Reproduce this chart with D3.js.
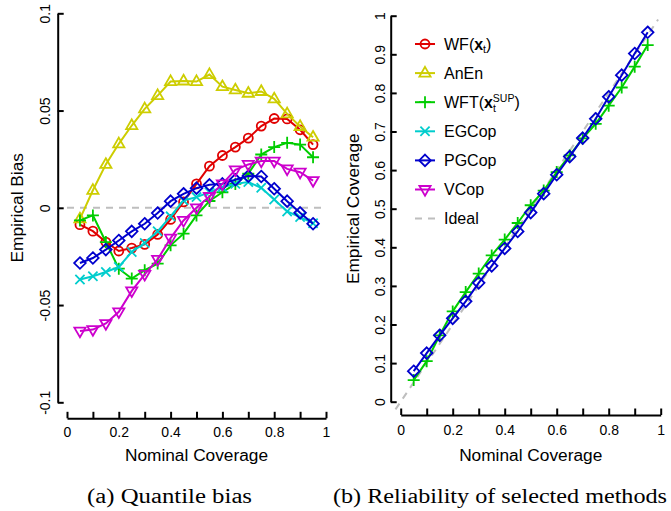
<!DOCTYPE html>
<html><head><meta charset="utf-8">
<script src="https://cdn.jsdelivr.net/npm/d3@7"></script>
<style>body{margin:0;background:#fff} svg{display:block}</style>
</head><body><svg id="c" width="671" height="511"></svg>
<script>
const coverage = [0.05,0.10,0.15,0.20,0.25,0.30,0.35,0.40,0.45,0.50,0.55,0.60,0.65,0.70,0.75,0.80,0.85,0.90,0.95];
const methods = ["WF","AnEn","WFT","EGCop","PGCop","VCop"];
const biasWF    = [-0.0087,-0.0120,-0.0176,-0.0222,-0.0207,-0.0188,-0.0137,-0.0060,0.0030,0.0123,0.0214,0.0269,0.0312,0.0358,0.0420,0.0459,0.0457,0.0401,0.0325];
const biasAnEn  = [-0.0057,0.0090,0.0223,0.0329,0.0423,0.0509,0.0577,0.0649,0.0652,0.0649,0.0685,0.0623,0.0606,0.0589,0.0598,0.0560,0.0483,0.0418,0.0363];
const biasWFT   = [-0.0065,-0.0039,-0.0176,-0.0313,-0.0364,-0.0321,-0.0287,-0.0193,-0.0133,-0.0039,0.0035,0.0080,0.0123,0.0175,0.0274,0.0312,0.0334,0.0325,0.0260];
const biasEGCop = [-0.0369,-0.0352,-0.0330,-0.0304,-0.0227,-0.0181,-0.0121,-0.0044,0.0038,0.0055,0.0080,0.0106,0.0123,0.0132,0.0103,0.0043,-0.0019,-0.0048,-0.0079];
const biasPGCop = [-0.0284,-0.0258,-0.0215,-0.0168,-0.0121,-0.0082,-0.0027,0.0034,0.0072,0.0101,0.0118,0.0123,0.0144,0.0163,0.0161,0.0098,0.0034,-0.0026,-0.0082];
const biasVCop  = [-0.0634,-0.0626,-0.0595,-0.0535,-0.0427,-0.0342,-0.0265,-0.0156,-0.0065,0.0000,0.0058,0.0123,0.0195,0.0223,0.0240,0.0240,0.0200,0.0183,0.0140];
const relWFT    = [0.056,0.105,0.172,0.234,0.284,0.332,0.379,0.420,0.463,0.509,0.547,0.595,0.638,0.682,0.720,0.767,0.814,0.868,0.924];
const relPGCop  = [0.079,0.126,0.172,0.216,0.260,0.308,0.352,0.397,0.441,0.490,0.539,0.588,0.635,0.683,0.733,0.790,0.846,0.902,0.957];
const xTicks = [0,0.1,0.2,0.3,0.4,0.5,0.6,0.7,0.8,0.9,1];
const xTickLabels = ["0","","0.2","","0.4","","0.6","","0.8","","1"];
const biasTicks = [-0.1,-0.05,0,0.05,0.1];
const biasTickLabels = ["-0.1","-0.05","0","0.05","0.1"];
const covTicks = [0,0.1,0.2,0.3,0.4,0.5,0.6,0.7,0.8,0.9,1];
const covTickLabels = ["0","0.1","0.2","0.3","0.4","0.5","0.6","0.7","0.8","0.9","1"];

const colors = {WF:"#E00000",AnEn:"#CDCD00",WFT:"#00CD00",EGCop:"#00CDCD",PGCop:"#0000CD",VCop:"#CD00CD",Ideal:"#BEBEBE"};
const shapes = {WF:"circle",AnEn:"tri",WFT:"plus",EGCop:"cross",PGCop:"diamond",VCop:"dtri"};
const FONT = "'Liberation Sans', Arial, Helvetica, sans-serif";
const SERIF = "'Liberation Serif', 'Times New Roman', serif";

function shapePath(s){
  switch(s){
    case "circle": return "M4.5,0A4.5,4.5 0 1,1 -4.5,0A4.5,4.5 0 1,1 4.5,0Z";
    case "tri": return "M0,-6.2L5.6,3.5L-5.6,3.5Z";
    case "dtri": return "M0,6.2L5.6,-3.5L-5.6,-3.5Z";
    case "plus": return "M-6,0H6M0,-6V6";
    case "cross": return "M-4.6,-4.6L4.6,4.6M-4.6,4.6L4.6,-4.6";
    case "diamond": return "M0,-5.8L5.8,0L0,5.8L-5.8,0Z";
  }
}

const svg = d3.select("#c");

function drawPanel(opt){
  const x = d3.scaleLinear().domain([0,1]).range(opt.xr);
  const y = d3.scaleLinear().domain(opt.yd).range(opt.yr);
  const g = svg.append("g");
  const xa = d3.axisBottom(x).tickValues(xTicks).tickSizeInner(-6.5).tickSizeOuter(0).tickPadding(opt.xpad)
    .tickFormat((d,i)=>xTickLabels[i]);
  const gx = g.append("g").attr("transform",`translate(0,${opt.xAxisY})`).call(xa);
  const ya = d3.axisLeft(y).tickValues(opt.yTicks).tickSizeInner(-6).tickSizeOuter(0)
    .tickFormat((d,i)=>opt.yLabels[i]);
  const gy = g.append("g").attr("transform",`translate(${opt.yAxisX},0)`).call(ya);
  [gx,gy].forEach(a=>{
    a.attr("font-family",null).attr("font-size",null);
    a.select(".domain").attr("stroke","#000").attr("stroke-width",2);
    a.selectAll(".tick line").attr("stroke","#000").attr("stroke-width",2);
    a.selectAll("text").style("font-family",FONT).style("font-size","14px").attr("fill","#000");
  });
  gy.selectAll(".tick text").attr("transform","rotate(-90)").attr("x",0).attr("y",-opt.ypad).attr("dy",0)
    .attr("text-anchor","middle");
  g.append("text").attr("x",(opt.xr[0]+opt.xr[1])/2).attr("y",461).attr("text-anchor","middle")
    .style("font-family",FONT).style("font-size","17.3px").text("Nominal Coverage");
  g.append("text").attr("transform",`translate(${opt.ytitleX},${(opt.yr[0]+opt.yr[1])/2}) rotate(-90)`)
    .attr("text-anchor","middle").style("font-family",FONT).style("font-size","17.3px").text(opt.ytitle);
  return {g,x,y};
}

// Panel (a)
const A = drawPanel({xr:[67,326], yd:[-0.1,0.1], yr:[402.3,13.3], xAxisY:418.3, yAxisX:57.7,
  yTicks:biasTicks, yLabels:biasTickLabels, xpad:8.5, ypad:7.5, ytitleX:23, ytitle:"Empirical Bias"});
A.g.append("line").attr("x1",A.x(0)).attr("x2",A.x(1)).attr("y1",A.y(0)).attr("y2",A.y(0))
  .attr("stroke",colors.Ideal).attr("stroke-width",2).attr("stroke-dasharray","7,6");
const biasSeries = {WF:biasWF,AnEn:biasAnEn,WFT:biasWFT,EGCop:biasEGCop,PGCop:biasPGCop,VCop:biasVCop};

function drawSeries(P,name,vals){
  const line = d3.line().x((d,i)=>P.x(coverage[i])).y(d=>P.y(d));
  P.g.append("path").datum(vals).attr("d",line).attr("fill","none").attr("stroke",colors[name]).attr("stroke-width",2);
  P.g.selectAll(null).data(vals).enter().append("path")
    .attr("transform",(d,i)=>`translate(${P.x(coverage[i])},${P.y(d)})`)
    .attr("d",shapePath(shapes[name])).attr("fill","none").attr("stroke",colors[name]).attr("stroke-width",1.8);
}
methods.forEach(m=>drawSeries(A,m,biasSeries[m]));

// Panel (b)
const B = drawPanel({xr:[400.7,660.7], yd:[0,1], yr:[401.7,15.7], xAxisY:415, yAxisX:390.7,
  yTicks:covTicks, yLabels:covTickLabels, xpad:10, ypad:6, ytitleX:359, ytitle:"Empirical Coverage"});
B.g.append("line").attr("x1",B.x(-0.02)).attr("x2",B.x(0.99)).attr("y1",B.y(-0.02)).attr("y2",B.y(0.99))
  .attr("stroke",colors.Ideal).attr("stroke-width",2).attr("stroke-dasharray","7,6");
drawSeries(B,"WFT",relWFT);
drawSeries(B,"PGCop",relPGCop);

// Legend
const legendY0 = 44, legendDy = 29.1, lx = 425;
const legNames = methods.concat(["Ideal"]);
legNames.forEach((m,i)=>{
  const cy = legendY0 + i*legendDy;
  const lg = svg.append("g");
  if(m==="Ideal"){
    lg.append("line").attr("x1",lx-10).attr("x2",lx+10).attr("y1",cy).attr("y2",cy)
      .attr("stroke",colors.Ideal).attr("stroke-width",2).attr("stroke-dasharray","7,6");
  } else {
    lg.append("line").attr("x1",lx-10).attr("x2",lx+10).attr("y1",cy).attr("y2",cy)
      .attr("stroke",colors[m]).attr("stroke-width",2);
    lg.append("path").attr("transform",`translate(${lx},${cy})`).attr("d",shapePath(shapes[m]))
      .attr("fill","none").attr("stroke",colors[m]).attr("stroke-width",1.8);
  }
  const t = lg.append("text").attr("x",444).attr("y",cy+5.8).style("font-family",FONT).style("font-size","16px");
  if(m==="WF"){
    t.append("tspan").text("WF(");
    t.append("tspan").attr("font-weight","bold").text("x");
    t.append("tspan").style("font-size","10.5px").attr("dy",3).text("t");
    t.append("tspan").attr("dy",-3).text(")");
  } else if(m==="WFT"){
    t.append("tspan").text("WFT(");
    t.append("tspan").attr("font-weight","bold").text("x");
    t.append("tspan").style("font-size","10.5px").attr("dy",4).text("t");
    t.append("tspan").style("font-size","10.5px").attr("dx",-3).attr("dy",-10.5).text("SUP");
    t.append("tspan").attr("dy",6.5).text(")");
  } else {
    t.text(m);
  }
});

// Captions
svg.append("text").attr("x",87).attr("y",503).style("font-family",SERIF)
  .style("font-size","20px").attr("textLength",165).attr("lengthAdjust","spacingAndGlyphs").text("(a) Quantile bias");
svg.append("text").attr("x",333).attr("y",503).style("font-family",SERIF)
  .style("font-size","20px").attr("textLength",334).attr("lengthAdjust","spacingAndGlyphs").text("(b) Reliability of selected methods");
</script></body></html>
